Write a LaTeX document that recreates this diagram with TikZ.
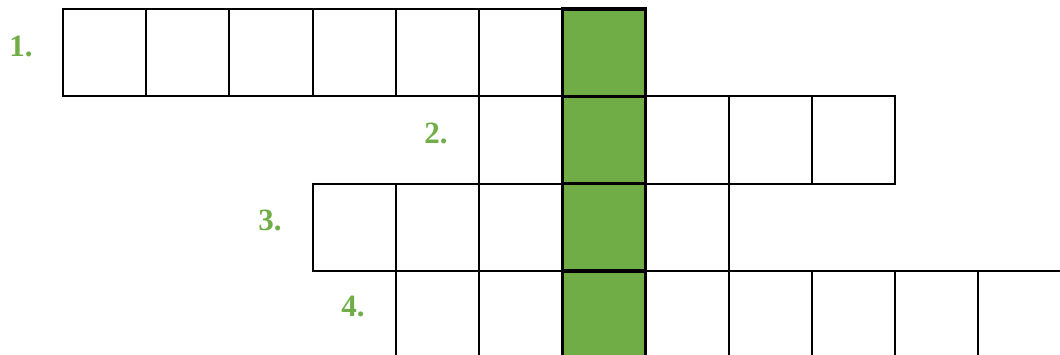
\documentclass[tikz,border=0pt]{standalone}
\usepackage{fontspec}
\setmainfont{Liberation Serif}
\definecolor{lgreen}{HTML}{70AD47}
\begin{document}
\begin{tikzpicture}[x=1pt,y=-1pt,
  cell/.style={draw, line width=2pt, minimum width=83.2pt, minimum height=87.3pt, inner sep=0pt, outer sep=0pt, anchor=north west},
  key/.style={cell, fill=lgreen, line width=3.4pt},
  num/.style={text=lgreen, inner sep=0pt, font=\fontsize{31}{31}\selectfont\bfseries}]
\useasboundingbox (0,0) rectangle (1060,354);
\clip (0,0) rectangle (1060,354);
% row 1
\foreach \i in {0,...,5} \node[cell] (ra\i) at ({63+83.2*\i},9) {};
% row 2
\foreach \i in {5,7,8,9} \node[cell] (rb\i) at ({63+83.2*\i},96.3) {};
% row 3
\foreach \i in {3,4,5,7} \node[cell] (rc\i) at ({63+83.2*\i},183.6) {};
% row 4
\foreach \i in {4,5,7,8,9,10,11} \node[cell] (rd\i) at ({63+83.2*\i},270.9) {};
% key column
\node[key] (ka) at ({63+83.2*6},9) {};
\node[key] (kb) at ({63+83.2*6},96.3) {};
\node[key] (kc) at ({63+83.2*6},183.6) {};
\node[key] (kd) at ({63+83.2*6},270.9) {};
% numbers
\node[num] (n1) at (21,46) {1.};
\node[num] (n2) at (436,133) {2.};
\node[num] (n3) at (270,220) {3.};
\node[num] (n4) at (353,307) {4.};
\end{tikzpicture}
\end{document}
